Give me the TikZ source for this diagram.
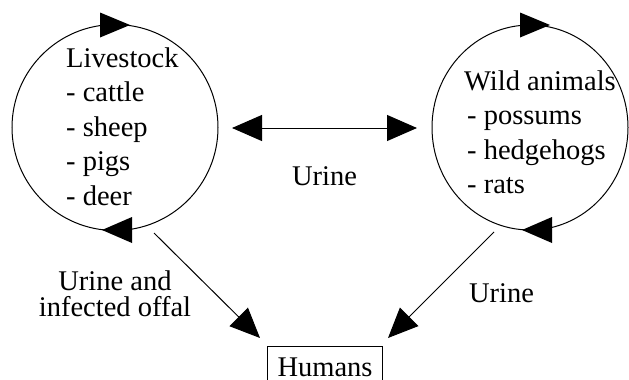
\documentclass[tikz,border=0pt]{standalone}
\usepackage{fontspec}
\setmainfont{Liberation Serif}
\usetikzlibrary{arrows.meta,shapes.geometric}
\begin{document}
\begin{tikzpicture}[x=1pt,y=-1pt,
  lw/.style={line width=1pt},
  arr/.style={lw, -{Triangle[length=30pt,width=26pt]}},
  darr/.style={lw, {Triangle[length=30pt,width=26pt]}-{Triangle[length=30pt,width=26pt]}},
  txt/.style={font=\fontsize{28.5}{34.5}\selectfont, inner sep=0pt},
  txtb/.style={font=\fontsize{28.5}{26}\selectfont, inner sep=0pt},
]
\useasboundingbox (0,0) rectangle (629,380);
\begin{scope}
\clip (0,0) rectangle (629,380);
% circles
\node[draw, lw, circle, minimum size=206pt, inner sep=0pt] (live) at (115,127.5) {};
\node[draw, lw, ellipse, minimum width=196pt, minimum height=205pt, inner sep=0pt] (wild) at (530,127.5) {};
% cycle arrowheads
\fill (100,12.5) -- (130,25) -- (100,37.5) -- cycle;
\fill (132,217) -- (102,230) -- (132,243) -- cycle;
\fill (520,12.5) -- (550,25) -- (520,37.5) -- cycle;
\fill (552,217) -- (522,230) -- (552,243) -- cycle;
% humans box (bottom edge at the picture's edge)
\node[draw, lw, txt, minimum width=115pt, text height=30pt, text depth=4.6pt, anchor=north west] (hum) at (267,346) {Humans};
% texts (base anchor = baseline of last line)
\node[txt, align=left, anchor=base west] (ltxt) at (66,205) {Livestock\\- cattle\\- sheep\\- pigs\\- deer};
\node[txt, align=left, anchor=base west] (wtxt) at (464,193.5) {Wild animals\\\hspace*{3pt}- possums\\\hspace*{3pt}- hedgehogs\\\hspace*{3pt}- rats};
\node[txt, anchor=base] (u1) at (324.5,185) {Urine};
\node[txtb, align=center, anchor=base] (u2) at (115,316) {Urine and\\infected offal};
\node[txt, anchor=base] (u3) at (501.5,302) {Urine};
% connectors
\coordinate (m1) at (232,128);
\coordinate (m2) at (417,128);
\coordinate (l1) at (154,233);
\coordinate (l2) at (260,338);
\coordinate (r1) at (494,232);
\coordinate (r2) at (388,338);
\draw[darr] (m1) -- (m2);
\draw[arr] (l1) -- (l2);
\draw[arr] (r1) -- (r2);
\end{scope}
\end{tikzpicture}
\end{document}
